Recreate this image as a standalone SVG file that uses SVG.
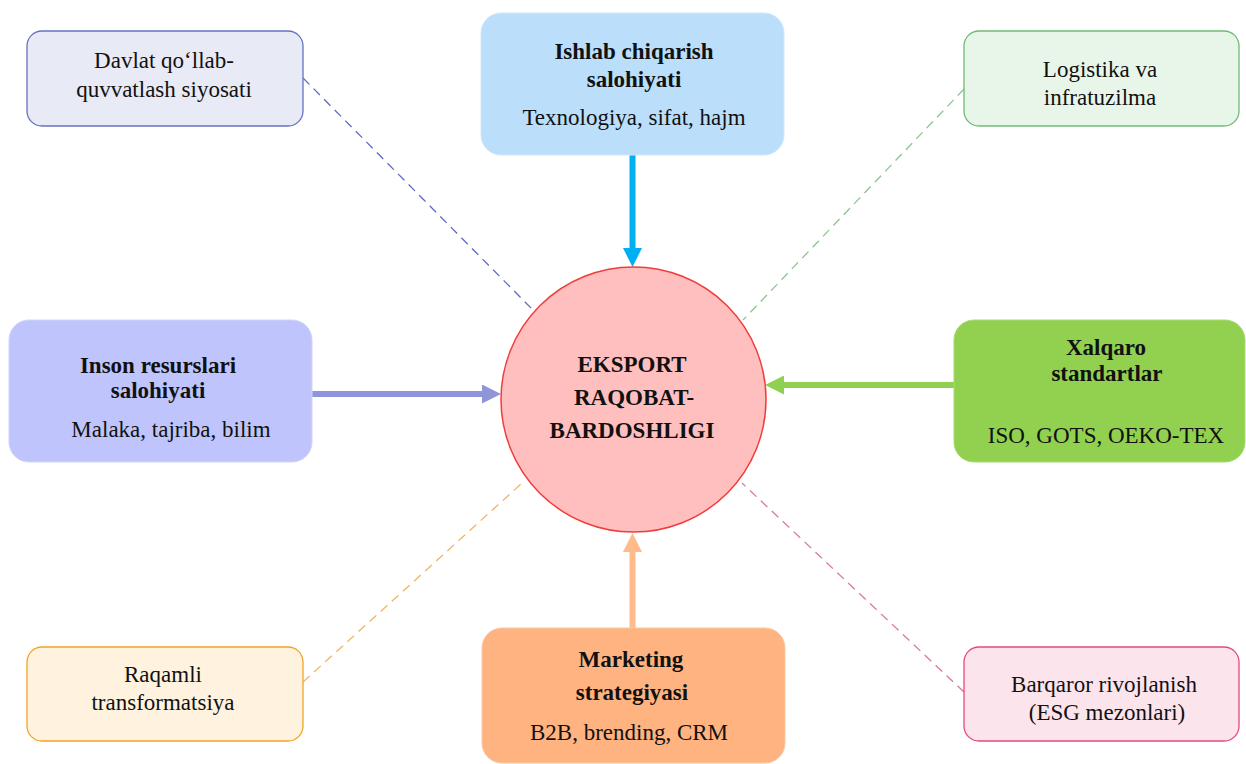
<svg xmlns="http://www.w3.org/2000/svg" width="1246" height="764" viewBox="0 0 1246 764">
<style>
text{font-family:"Liberation Serif","Times New Roman",serif;font-size:23px;fill:#111;text-anchor:middle}
.b{font-weight:bold}
.dash{fill:none;stroke-width:1.3;stroke-dasharray:9 6}
.arr{fill:none;stroke-width:6}
</style>
<defs>
<marker id="mBlue" viewBox="0 0 19 19" markerWidth="19" markerHeight="19" refX="0" refY="9.5" orient="auto" markerUnits="userSpaceOnUse"><path d="M0,0 L19,9.5 L0,19 z" fill="#00b0f0"/></marker>
<marker id="mPurple" viewBox="0 0 19 19" markerWidth="19" markerHeight="19" refX="0" refY="9.5" orient="auto" markerUnits="userSpaceOnUse"><path d="M0,0 L19,9.5 L0,19 z" fill="#8e95d8"/></marker>
<marker id="mGreen" viewBox="0 0 19 19" markerWidth="19" markerHeight="19" refX="0" refY="9.5" orient="auto" markerUnits="userSpaceOnUse"><path d="M0,0 L19,9.5 L0,19 z" fill="#8fd052"/></marker>
<marker id="mOrange" viewBox="0 0 19 19" markerWidth="19" markerHeight="19" refX="0" refY="9.5" orient="auto" markerUnits="userSpaceOnUse"><path d="M0,0 L19,9.5 L0,19 z" fill="#ffbb8a"/></marker>
</defs>
<rect width="1246" height="764" fill="#ffffff"/>
<g id="connectors">
<line class="dash" x1="303" y1="78" x2="533" y2="310" stroke="#5c6bc0"/>
<line class="dash" x1="964" y1="89" x2="743" y2="320" stroke="#8cc58f"/>
<line class="dash" x1="303" y1="682" x2="521" y2="484" stroke="#f2b36a"/>
<line class="dash" x1="964" y1="692" x2="742" y2="483" stroke="#d9799d"/>
<line class="arr" x1="632.5" y1="155" x2="632.5" y2="248" stroke="#00b0f0" marker-end="url(#mBlue)"/>
<line class="arr" x1="312" y1="394" x2="482" y2="394" stroke="#8e95d8" marker-end="url(#mPurple)"/>
<line class="arr" x1="954" y1="385" x2="784" y2="385" stroke="#8fd052" marker-end="url(#mGreen)"/>
<line class="arr" x1="632.5" y1="628" x2="632.5" y2="552" stroke="#ffbb8a" marker-end="url(#mOrange)"/>
</g>
<g id="center">
<circle cx="633.5" cy="399.5" r="132.5" fill="#ffbfbf" stroke="#f03c3c" stroke-width="1.5"/>
<text class="b" x="632" y="372">EKSPORT</text>
<text class="b" x="634" y="405">RAQOBAT-</text>
<text class="b" x="632" y="438">BARDOSHLIGI</text>
</g>
<g id="ishlab">
<rect x="481" y="13" width="303" height="142" rx="20" fill="#bbdefb" stroke="#d2e7f8" stroke-width="1"/>
<text class="b" x="634" y="59">Ishlab chiqarish</text>
<text class="b" x="634" y="87">salohiyati</text>
<text x="634" y="125">Texnologiya, sifat, hajm</text>
</g>
<g id="davlat">
<rect x="27" y="31" width="276" height="95" rx="15" fill="#e8eaf6" stroke="#6673c2" stroke-width="1.3"/>
<text x="164" y="68">Davlat qo‘llab-</text>
<text x="164" y="97">quvvatlash siyosati</text>
</g>
<g id="logistika">
<rect x="964" y="31" width="275" height="95" rx="15" fill="#e8f5e9" stroke="#72b976" stroke-width="1.3"/>
<text x="1100" y="77">Logistika va</text>
<text x="1100" y="105">infratuzilma</text>
</g>
<g id="inson">
<rect x="9" y="320" width="303" height="142" rx="20" fill="#bfc5fc" stroke="#d0d4fb" stroke-width="1"/>
<text class="b" x="158" y="373">Inson resurslari</text>
<text class="b" x="158" y="398">salohiyati</text>
<text x="171" y="437">Malaka, tajriba, bilim</text>
</g>
<g id="xalqaro">
<rect x="954" y="320" width="291" height="142" rx="20" fill="#92d050" stroke="#a6da70" stroke-width="1"/>
<text class="b" x="1106" y="355">Xalqaro</text>
<text class="b" x="1107" y="381">standartlar</text>
<text x="1106" y="443">ISO, GOTS, OEKO-TEX</text>
</g>
<g id="raqamli">
<rect x="27" y="647" width="276" height="94" rx="15" fill="#fff3e0" stroke="#f5a326" stroke-width="1.3"/>
<text x="163" y="682">Raqamli</text>
<text x="163" y="710">transformatsiya</text>
</g>
<g id="marketing">
<rect x="482" y="628" width="303" height="135" rx="20" fill="#ffb380" stroke="#fcc7a3" stroke-width="1"/>
<text class="b" x="631" y="667">Marketing</text>
<text class="b" x="632" y="700">strategiyasi</text>
<text x="629" y="740">B2B, brending, CRM</text>
</g>
<g id="barqaror">
<rect x="964" y="647" width="275" height="94" rx="15" fill="#fce4ec" stroke="#e24a7c" stroke-width="1.3"/>
<text x="1104" y="692">Barqaror rivojlanish</text>
<text x="1107" y="720">(ESG mezonlari)</text>
</g>
</svg>
